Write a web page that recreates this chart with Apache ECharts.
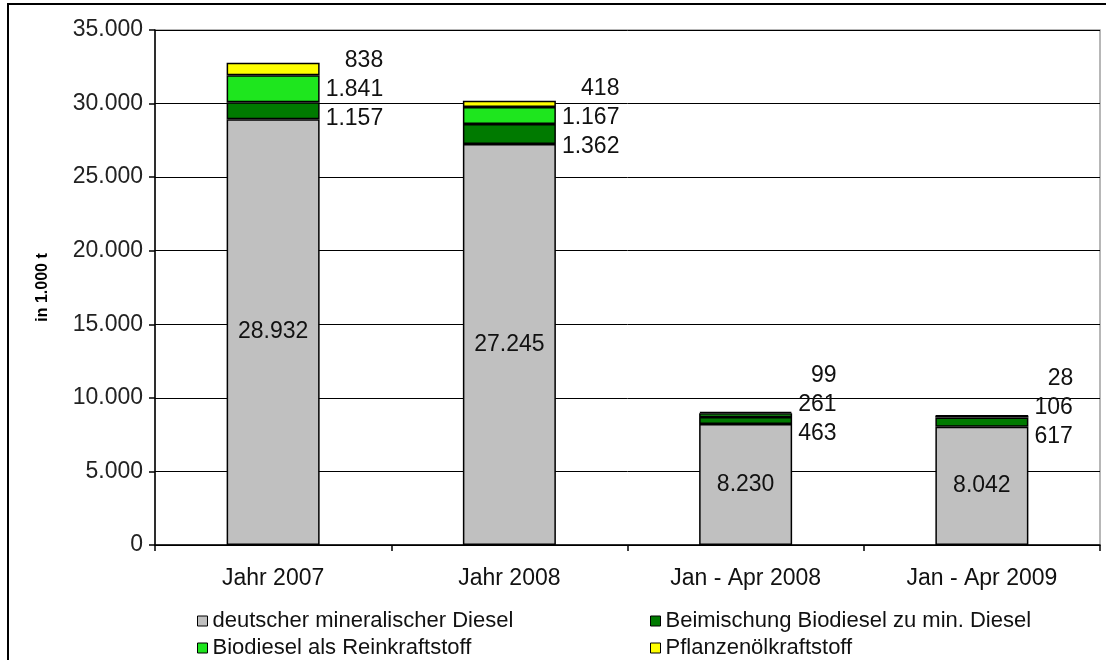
<!DOCTYPE html>
<html>
<head>
<meta charset="utf-8">
<script src="https://cdn.jsdelivr.net/npm/echarts@6/dist/echarts.min.js"></script>
<style>
html,body{margin:0;padding:0;background:#fff;}
#chart{width:1106px;height:660px;}
</style>
</head>
<body>
<div id="chart"></div>
<script>
const categories = ['Jahr 2007', 'Jahr 2008', 'Jan - Apr 2008', 'Jan - Apr 2009'];
const seriesNames = ['deutscher mineralischer Diesel', 'Beimischung Biodiesel zu min. Diesel', 'Biodiesel als Reinkraftstoff', 'Pflanzenölkraftstoff'];
const mineralDiesel = [28932, 27245, 8230, 8042];
const beimischung = [1157, 1362, 463, 617];
const reinkraftstoff = [1841, 1167, 261, 106];
const pflanzenoel = [838, 418, 99, 28];
const yTicks = [0, 5000, 10000, 15000, 20000, 25000, 30000, 35000];

const FONT = '"Liberation Sans", Arial, sans-serif';
const colors = ['#c0c0c0', '#007a00', '#1ee61e', '#ffff00'];
const de = n => String(n).replace(/\B(?=(\d{3})+(?!\d))/g, '.');

const chart = echarts.init(document.getElementById('chart'), null, { renderer: 'canvas' });
const smallSeries = [beimischung, reinkraftstoff, pflanzenoel];

const ctx = document.createElement('canvas').getContext('2d');
ctx.font = '23px ' + FONT;
const textW = s => ctx.measureText(s).width;

function smallLabelLayout(p) {
  const s = p.seriesIndex - 1;
  const i = p.dataIndex;
  const toPx = v => chart.convertToPixel({ yAxisIndex: 0 }, v);
  let acc = mineralDiesel[i];
  const greyTop = toPx(acc);
  const centers = [];
  for (let m = 0; m < 3; m++) {
    const lo = toPx(acc);
    acc += smallSeries[m][i];
    const hi = toPx(acc);
    centers.push((lo + hi) / 2);
  }
  const G = 29;
  const mean = (centers[0] + centers[1] + centers[2]) / 3;
  let t = [mean + G, mean, mean - G];
  const limit = greyTop + 10;
  if (t[0] > limit) { const d = limit - t[0]; t = t.map(v => v + d); }
  const maxW = Math.max.apply(null, smallSeries.map(a => textW(de(a[i]))));
  return {
    x: p.rect.x + p.rect.width + 6 + maxW,
    y: t[s],
    align: 'right',
    verticalAlign: 'middle'
  };
}

const baseSeries = (name, data, idx) => ({
  name: name,
  type: 'bar',
  stack: 'total',
  data: data,
  barWidth: 93,
  itemStyle: { color: colors[idx], borderColor: '#000', borderWidth: 1.5 },
  emphasis: { disabled: true },
  animation: false
});

const series = [
  Object.assign(baseSeries(seriesNames[0], mineralDiesel, 0), {
    label: { show: true, position: 'inside', fontSize: 23, fontFamily: FONT, color: '#111',
      formatter: p => de(p.value) }
  })
];
[beimischung, reinkraftstoff, pflanzenoel].forEach((d, k) => {
  series.push(Object.assign(baseSeries(seriesNames[k + 1], d, k + 1), {
    label: { show: true, position: 'right', fontSize: 23, fontFamily: FONT, color: '#111',
      formatter: p => de(p.value) },
    labelLayout: smallLabelLayout
  }));
});

const legendCommon = {
  orient: 'horizontal',
  padding: 0,
  itemWidth: 10,
  itemHeight: 10,
  icon: 'rect',
  itemStyle: { borderColor: '#000', borderWidth: 1 },
  textStyle: { fontSize: 22, lineHeight: 24, fontFamily: FONT, color: '#111' },
  selectedMode: false
};
const legendSlots = [[197, 609], [650, 609], [197, 636], [650, 636]];

chart.setOption({
  backgroundColor: '#fff',
  animation: false,
  textStyle: { fontFamily: FONT },
  grid: { left: 155, right: 6, top: 30, bottom: 115, show: true, borderColor: '#a0a0a0', borderWidth: 1.5 },
  legend: seriesNames.map((n, k) => Object.assign({}, legendCommon, {
    left: legendSlots[k][0], top: legendSlots[k][1], data: [n]
  })),
  xAxis: {
    type: 'category',
    data: categories,
    axisLine: { lineStyle: { color: '#000', width: 1.5 } },
    axisTick: { show: true, length: 6, lineStyle: { color: '#000', width: 1.5 } },
    axisLabel: { fontSize: 23, fontFamily: FONT, color: '#111', margin: 22 }
  },
  yAxis: {
    type: 'value',
    min: yTicks[0],
    max: yTicks[yTicks.length - 1],
    interval: yTicks[1] - yTicks[0],
    name: 'in 1.000 t',
    nameLocation: 'middle',
    nameGap: 104,
    nameTextStyle: { fontSize: 16, fontWeight: 'bold', fontFamily: FONT, color: '#000' },
    axisLine: { show: true, lineStyle: { color: '#000', width: 1.5 } },
    axisTick: { show: true, length: 6, lineStyle: { color: '#000', width: 1.5 } },
    axisLabel: { fontSize: 23, fontFamily: FONT, color: '#222', margin: 12, formatter: v => de(v) },
    splitLine: { show: true, lineStyle: { color: '#000', width: 1 } }
  },
  graphic: [{
    type: 'rect',
    shape: { x: 8, y: 4, width: 1200, height: 800 },
    style: { fill: 'none', stroke: '#000', lineWidth: 2 },
    silent: true
  }],
  series: series
});
</script>
</body>
</html>
